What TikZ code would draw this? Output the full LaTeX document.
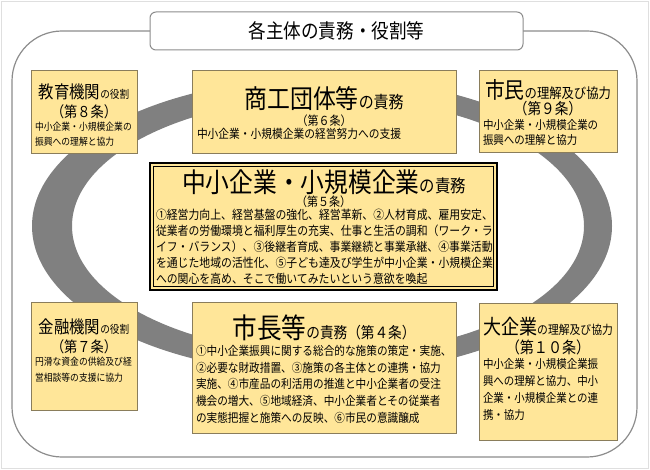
\documentclass[tikz,border=0pt]{standalone}
\usepackage{fontspec}
\setmainfont{Noto Sans CJK JP}[FakeStretch=0.88]
\definecolor{boxfill}{HTML}{FFE699}
\definecolor{boxline}{HTML}{8A7D5B}
\definecolor{ringgray}{HTML}{808080}
\definecolor{frame}{HTML}{8C8C8C}
\newcommand{\fs}[2]{{\fontsize{#1}{#1}\selectfont #2}}
\newcommand{\bodyfont}[2]{\fontsize{#1}{#2}\selectfont\lineskiplimit=-30pt\lineskip=0pt\relax}
\tikzset{
  ybox/.style={draw=boxline, fill=boxfill, line width=0.9pt},
  txt/.style={inner sep=0pt, outer sep=0pt},
  body/.style={inner sep=0pt, outer sep=0pt, anchor=north west, align=left},
}
\begin{document}
\begin{tikzpicture}[x=1pt,y=-1pt]
\useasboundingbox (0,0) rectangle (650,470);
\draw[gray!25, line width=0.8pt] (1.5,1.5) rectangle (648.5,468.5);
% outer rounded frame
\draw[frame, line width=1.2pt, rounded corners=50pt] (12,31) rectangle (637,457);
% title
\node[draw=frame, fill=white, line width=1pt, rounded corners=6pt, minimum width=373pt, minimum height=38pt, inner sep=0pt] (title) at (336.5,31) {\fs{20}{各主体の責務・役割等}};
% ring
\fill[ringgray, even odd rule] (322,226) ellipse [x radius=290, y radius=148] (328,226) ellipse [x radius=256, y radius=128];
% boxes
\path[ybox] (31,70) rectangle (137,153) coordinate (kyoiku);
\path[ybox] (192,70) rectangle (456,153) coordinate (shoko);
\path[ybox] (479,70) rectangle (617,152) coordinate (shimin);
\path[ybox] (31,302) rectangle (137,410) coordinate (kinyu);
\path[ybox] (192,302) rectangle (456,433) coordinate (shicho);
\path[ybox] (479,303) rectangle (617,440) coordinate (daikigyo);
% center double box
\path[fill=boxfill, draw=black, line width=1.8pt] (150,163) rectangle (497,290);
\draw[black, line width=0.8pt] (153.5,166.5) rectangle (493.5,286.5);
% 教育機関
\node[txt] (k1) at (84,92) {\fs{17.5}{教育機関}\fs{11}{の役割}};
\node[txt] (k2) at (84,112) {\fs{15}{（第８条）}};
\node[body, font=\bodyfont{10}{15}] (k3) at (35,122) {中小企業・小規模企業の\\振興への理解と協力};
% 商工団体等
\node[txt] (s1) at (324,99) {\fs{26}{商工団体等}\fs{17}{の責務}};
\node[txt] (s2) at (324,121) {\fs{12.5}{（第６条）}};
\node[body, font=\bodyfont{12.2}{15}] (s3) at (197,128) {中小企業・小規模企業の経営努力への支援};
% 市民
\node[txt] (m1) at (548,90) {\fs{22.5}{市民}\fs{14}{の理解及び協力}};
\node[txt] (m2) at (548,109) {\fs{15.5}{（第９条）}};
\node[body, font=\bodyfont{11.9}{15}] (m3) at (483,119) {中小企業・小規模企業の\\振興への理解と協力};
% 中小企業
\node[txt] (c1) at (324,182) {\fs{27}{中小企業・小規模企業}\fs{17.5}{の責務}};
\node[txt] (c2) at (323.5,202) {\fs{12.5}{（第５条）}};
\node[body, font=\bodyfont{12.35}{15.8}] (c3) at (156,209.5) {①経営力向上、経営基盤の強化、経営革新、②人材育成、雇用安定、\\従業者の労働環境と福利厚生の充実、仕事と生活の調和（ワーク・ラ\\イフ・バランス）、③後継者育成、事業継続と事業承継、④事業活動\\を通じた地域の活性化、⑤子ども達及び学生が中小企業・小規模企業\\への関心を高め、そこで働いてみたいという意欲を喚起};
% 金融機関
\node[txt] (f1) at (84,327) {\fs{17.5}{金融機関}\fs{11}{の役割}};
\node[txt] (f2) at (84,347) {\fs{15}{（第７条）}};
\node[body, font=\bodyfont{10}{16}] (f3) at (35,357) {円滑な資金の供給及び経\\営相談等の支援に協力};
% 市長等
\node[txt] (h1) at (324,328) {\fs{28}{市長等}\fs{15.5}{の責務（第４条）}};
\node[body, font=\bodyfont{12.1}{16.8}] (h3) at (196,345) {①中小企業振興に関する総合的な施策の策定・実施、\\②必要な財政措置、③施策の各主体との連携・協力\\実施、④市産品の利活用の推進と中小企業者の受注\\機会の増大、⑤地域経済、中小企業者とその従業者\\の実態把握と施策への反映、⑥市民の意識醸成};
% 大企業
\node[txt] (d1) at (548,327) {\fs{20.5}{大企業}\fs{12.3}{の理解及び協力}};
\node[txt] (d2) at (548,347) {\fs{16}{（第１０条）}};
\node[body, font=\bodyfont{11.9}{17}] (d3) at (483,358) {中小企業・小規模企業振\\興への理解と協力、中小\\企業・小規模企業との連\\携・協力};
\end{tikzpicture}
\end{document}
